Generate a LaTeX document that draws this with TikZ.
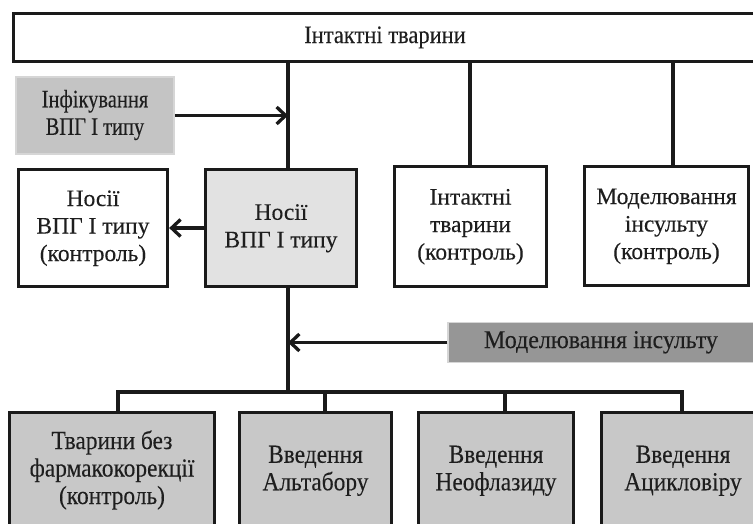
\documentclass[tikz,border=0pt]{standalone}
\usepackage{fontspec}
\setmainfont{Liberation Serif}
\newfontface\heavy{Liberation Serif}[FakeBold=0.2]
\usetikzlibrary{arrows.meta}
\definecolor{ink}{HTML}{1A1A1A}
\definecolor{txt}{HTML}{1E1E1E}
\definecolor{lightfill}{HTML}{E2E2E2}
\definecolor{midfill}{HTML}{C8C8C8}
\definecolor{inffill}{HTML}{C4C4C4}
\definecolor{darkfill}{HTML}{969696}
\definecolor{softedge}{HTML}{D6D6D6}
\newcommand\lines[3]{\scalebox{#1}[1]{\heavy\fontsize{#2}{27.5pt}\selectfont\begin{tabular}{@{}c@{}}#3\end{tabular}}}
\tikzset{
  lbl/.style={text=txt, align=center, inner sep=0pt},
  boxw/.style={lbl, draw=ink, line width=3.3pt, fill=white},
  boxl/.style={lbl, draw=ink, line width=3.3pt, fill=lightfill},
  boxm/.style={lbl, draw=ink, line width=3.3pt, fill=midfill},
  flat/.style={lbl, draw=softedge, line width=1.5pt},
  conn/.style={draw=ink, line width=3.3pt},
  arr/.style={conn, -{Straight Barb[length=9pt,width=17pt,line width=3.3pt]}}
}
\begin{document}
\begin{tikzpicture}[x=1pt,y=-1pt]
\useasboundingbox (0,0) rectangle (753,523);
\clip (0,0) rectangle (753,523);
% top
\node[boxw, minimum width=743pt, minimum height=48pt] (top) at (385,37.5) {\lines{0.9}{25pt}{Інтактні тварини}};
% infection
\node[flat, fill=inffill, minimum width=158pt, minimum height=77pt] (inf) at (95,115.5) {\lines{0.82}{25pt}{Інфікування\\ВПГ І типу}};
% second row
\node[boxw, minimum width=149pt, minimum height=117pt] (nosc) at (93,228) {\lines{1}{23.5pt}{Носії\\ВПГ І типу\\(контроль)}};
\node[boxl, minimum width=151pt, minimum height=117pt] (nos) at (281,228) {\lines{1}{23.5pt}{Носії\\ВПГ І типу}};
\node[boxw, minimum width=152pt, minimum height=120pt] (intc) at (470.5,226.5) {\lines{1}{23.5pt}{Інтактні\\тварини\\(контроль)}};
\node[boxw, minimum width=164pt, minimum height=119pt] (modc) at (666.5,226) {\lines{1}{23.5pt}{Моделювання\\інсульту\\(контроль)}};
% stroke modelling
\node[flat, fill=darkfill, minimum width=306pt, minimum height=40pt] (mod) at (601,342.5) {\lines{0.94}{25.5pt}{Моделювання інсульту}};
% bottom row
\node[boxm, minimum width=205pt, minimum height=117pt] (b1) at (112,471) {\lines{0.9}{26pt}{Тварини без\\фармакокорекції\\(контроль)}};
\node[boxm, minimum width=152pt, minimum height=117pt] (b2) at (315.5,471) {\lines{0.9}{26pt}{Введення\\Альтабору}};
\node[boxm, minimum width=155pt, minimum height=117pt] (b3) at (496,471) {\lines{0.9}{26pt}{Введення\\Неофлазиду}};
\node[boxm, minimum width=163pt, minimum height=117pt] (b4) at (683,471) {\lines{0.9}{26pt}{Введення\\Ацикловіру}};
% junction coordinates
\coordinate (j1) at (288,0);
\coordinate (j2) at (470,0);
\coordinate (j3) at (673,0);
\coordinate (c1) at (118,392);
\coordinate (c2) at (325,392);
\coordinate (c3) at (505,392);
\coordinate (c4) at (682,392);
\coordinate (cm) at (288,392);
% connectors from top
\draw[conn] (top.south -| j1) -- (nos.north -| j1);
\draw[conn] (top.south -| j2) -- (intc.north -| j2);
\draw[conn] (top.south -| j3) -- (modc.north -| j3);
% arrows
\draw[arr] (inf.east) -- (inf.east -| j1);
\draw[arr] (nos.west) -- (nosc.east);
\draw[arr] (mod.west) -- (mod.west -| j1);
% lower tree
\draw[conn] (nos.south -| j1) -- (cm);
\draw[conn, line join=miter] (c1 |- b1.north) -- (c1) -- (c4) -- (c4 |- b4.north);
\draw[conn] (c2) -- (c2 |- b2.north);
\draw[conn] (c3) -- (c3 |- b3.north);
\end{tikzpicture}
\end{document}
